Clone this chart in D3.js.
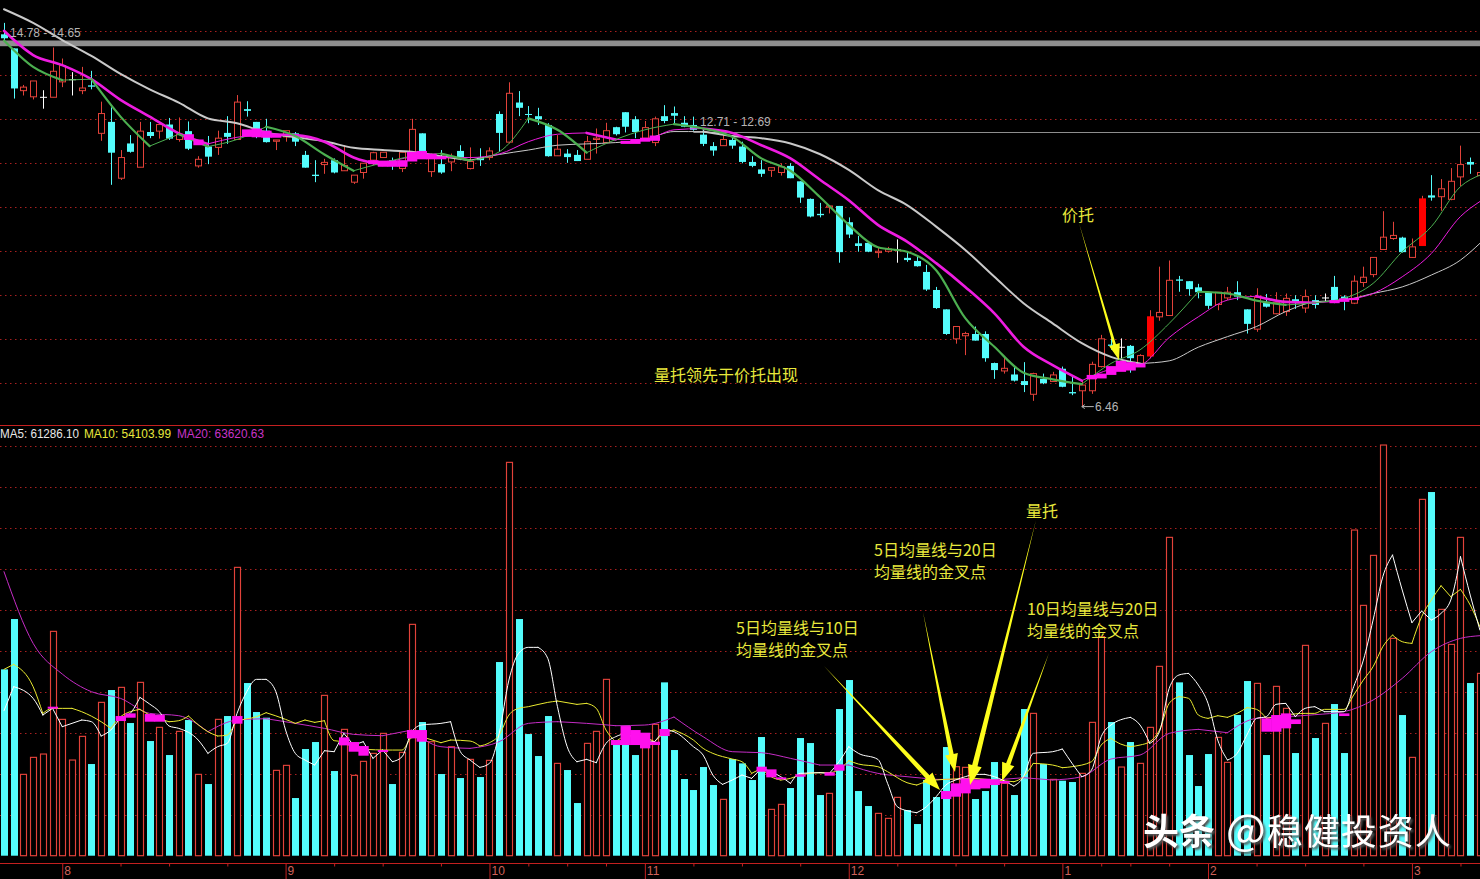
<!DOCTYPE html>
<html>
<head>
<meta charset="utf-8">
<style>
html, body { margin: 0; padding: 0; background: #000; overflow: hidden; }
svg { display: block; }
</style>
<script src="https://cdn.jsdelivr.net/npm/d3@7"></script>
</head>
<body>
<svg id="chart"></svg>
<script>
// daily candles, one entry per trading day
const open = [14.92,14.60,13.64,13.50,13.50,13.49,13.84,13.90,13.64,13.76,
    12.67,12.93,11.65,12.44,11.90,12.70,12.72,12.87,12.53,12.72,
    11.93,12.37,12.35,12.68,12.53,13.22,12.93,12.73,12.49,12.59,
    12.67,12.18,11.73,11.96,12.06,11.82,11.56,11.78,12.06,12.12,
    12.06,11.87,12.06,12.67,11.80,11.97,12.02,12.27,11.87,12.12,
    12.12,13.11,12.47,13.37,13.11,13.06,12.86,12.16,12.21,12.18,
    12.08,12.53,12.46,12.81,13.15,12.99,12.56,12.46,13.06,13.13,
    12.91,12.86,12.64,12.38,12.39,12.52,12.37,12.02,11.85,11.83,
    11.78,11.93,11.58,11.18,10.84,10.99,11.02,10.65,10.17,10.18,
    9.96,9.99,10.03,9.84,9.77,9.52,9.11,8.67,8.00,8.07,
    8.11,8.11,7.45,7.27,7.19,7.04,6.74,7.09,7.03,7.32,
    6.79,6.82,6.82,7.37,7.87,7.82,7.84,7.44,7.61,8.50,
    8.53,9.35,9.31,9.17,9.06,8.78,8.93,9.06,8.67,8.22,
    8.84,8.57,8.62,8.90,8.70,8.88,8.94,9.18,8.96,8.81,
    9.28,9.46,10.03,10.28,10.30,9.85,10.12,11.26,11.23,11.17,
    11.68,12.02,11.71];
const close = [14.83,13.69,13.72,13.86,13.50,14.08,14.21,13.90,13.70,13.73,
    13.12,12.23,12.12,12.25,12.72,12.61,12.87,12.55,12.65,12.32,
    12.08,12.14,12.56,12.59,13.38,13.18,12.59,12.47,12.52,12.73,
    12.48,11.89,11.70,12.01,11.78,11.94,11.72,11.99,12.23,12.24,
    11.95,12.24,12.76,12.25,12.10,11.78,12.12,12.12,12.03,12.06,
    12.27,12.68,13.58,13.25,13.09,12.99,12.15,12.31,12.13,12.04,
    12.48,12.56,12.73,12.65,12.82,12.70,12.80,13.00,12.95,13.07,
    12.82,12.75,12.43,12.28,12.53,12.39,12.02,11.93,11.75,11.89,
    11.91,11.65,11.21,10.78,10.81,11.02,9.97,10.37,10.11,9.98,
    9.99,10.04,10.03,9.79,9.65,9.12,8.70,8.11,8.28,8.12,
    7.96,7.56,7.29,7.33,7.05,6.95,7.21,6.99,7.18,6.91,
    6.76,6.95,7.42,8.00,7.84,7.82,7.56,7.62,8.50,8.60,
    9.33,9.32,9.13,9.06,8.75,9.06,9.06,8.96,8.34,8.94,
    8.73,8.83,8.92,8.83,8.96,8.77,8.94,8.86,8.87,9.31,
    9.40,9.85,10.31,10.35,9.97,10.09,11.18,11.21,11.41,11.58,
    11.96,11.96,11.78];
const high = [15.18,14.60,13.77,13.86,13.65,14.62,14.37,14.06,14.18,14.09,
    13.39,13.26,12.29,12.63,12.93,12.93,12.87,13.02,13.03,12.94,
    12.15,12.61,12.73,13.06,13.54,13.40,12.93,13.00,12.52,12.73,
    12.70,12.27,12.06,12.09,12.10,12.40,11.72,11.99,12.25,12.24,
    12.12,12.24,13.00,12.67,12.21,12.29,12.21,12.40,12.35,12.33,
    12.35,13.17,13.83,13.63,13.29,13.25,12.90,12.63,12.31,12.29,
    12.61,12.78,12.91,12.82,13.15,13.06,12.95,13.05,13.31,13.28,
    13.06,13.05,12.78,12.47,12.67,12.61,12.48,12.15,12.06,11.89,
    11.99,11.99,11.58,11.19,11.09,11.02,11.02,10.76,10.34,10.18,
    10.08,10.09,10.26,9.98,9.88,9.68,9.18,8.67,8.28,8.16,
    8.28,8.17,7.46,7.58,7.37,7.47,7.23,7.21,7.25,7.37,
    7.14,7.06,7.48,8.09,8.01,8.01,7.86,7.65,8.65,9.64,
    9.78,9.43,9.31,9.25,9.07,9.06,9.18,9.31,8.67,9.15,
    9.02,9.06,9.03,8.99,9.12,8.99,9.03,9.43,8.99,9.44,
    9.64,9.85,10.90,10.66,10.32,10.28,11.25,11.72,11.63,11.88,
    12.39,12.12,11.82];
const low = [14.75,13.46,13.53,13.44,13.23,13.49,13.72,13.53,13.56,13.67,
    12.50,11.50,11.61,12.23,11.90,12.56,12.55,12.52,12.48,12.29,
    11.89,11.97,12.18,12.43,12.52,13.05,12.56,12.46,12.29,12.48,
    12.38,11.89,11.56,11.75,11.76,11.82,11.52,11.64,11.95,12.12,
    11.84,11.79,12.06,12.25,11.68,11.75,11.81,12.06,11.85,11.93,
    12.06,12.25,12.44,13.06,12.90,12.86,12.14,12.16,12.00,12.04,
    12.08,12.21,12.44,12.62,12.69,12.56,12.53,12.38,12.90,12.90,
    12.81,12.73,12.38,12.16,12.39,12.32,11.99,11.90,11.68,11.68,
    11.71,11.65,11.09,10.76,10.76,10.85,9.73,10.29,9.98,9.97,
    9.84,9.96,9.73,9.75,9.64,9.09,8.68,8.09,7.89,7.63,
    7.96,7.48,7.09,7.21,7.03,6.79,6.59,6.97,7.02,6.90,
    6.72,6.46,6.75,7.35,7.75,7.52,7.23,7.44,7.56,8.41,
    8.52,9.07,8.98,8.92,8.68,8.65,8.88,8.88,8.12,8.16,
    8.71,8.56,8.52,8.68,8.59,8.69,8.84,8.81,8.65,8.79,
    9.18,9.40,10.02,10.25,9.96,9.84,10.12,11.14,10.91,11.15,
    11.47,11.75,11.61];
const limitUpDays = [118, 146];

// volume in hundreds of lots
const volume = [559,710,244,295,305,673,409,287,358,275,
    460,497,505,398,520,344,385,302,373,407,
    244,215,409,419,865,518,431,414,256,271,
    173,320,341,481,254,379,241,283,307,367,
    215,310,694,401,342,245,327,233,289,236,
    286,581,1180,710,365,299,419,277,257,158,
    337,373,529,345,340,302,347,394,520,317,
    230,197,266,212,169,290,277,227,356,139,
    154,203,353,338,182,187,440,527,194,149,
    127,112,175,137,95,227,176,326,267,265,
    170,194,281,217,182,440,427,275,229,225,
    221,247,400,657,401,266,341,277,385,568,
    955,520,302,209,305,355,280,422,524,517,
    302,508,442,308,631,353,397,455,308,977,
    751,901,1232,652,422,295,1069,1091,739,634,
    955,518,547];

const maDays = d3.range(0, 151, 3).concat(152);
const priceMa5 = [14.78,14.18,13.88,13.90,13.05,12.38,12.65,12.37,12.53,12.82,12.61,12.19,11.82,
    12.00,12.15,12.21,12.05,12.25,13.01,12.75,12.23,12.53,12.75,12.88,12.78,12.59,
    12.10,11.82,11.23,10.59,10.08,9.98,9.56,8.47,7.82,7.23,7.08,6.97,
    7.44,7.75,8.35,9.07,9.03,8.87,8.77,8.82,8.92,9.26,9.98,10.55,11.46,11.72];
const priceMa10 = [15.00,14.45,14.22,13.90,13.43,13.05,12.67,12.43,12.58,12.65,12.63,12.48,12.12,
    11.95,12.12,12.12,12.12,12.20,12.48,12.65,12.68,12.53,12.53,12.75,12.78,12.68,
    12.40,12.10,11.62,11.15,10.59,10.21,9.72,9.18,8.58,7.82,7.40,7.05,
    7.31,7.40,8.03,8.50,8.88,8.97,8.84,8.82,8.88,9.03,9.41,9.94,10.78,11.12];
const priceMa20 = [15.49,15.18,14.79,14.43,14.02,13.67,13.37,13.01,12.90,12.69,12.58,12.49,12.34,
    12.29,12.25,12.15,12.06,12.19,12.29,12.40,12.43,12.46,12.53,12.71,12.71,12.61,
    12.56,12.44,12.20,11.84,11.38,11.04,10.55,10.02,9.41,8.81,8.35,7.90,
    7.59,7.44,7.50,7.81,8.05,8.28,8.62,8.84,8.88,9.03,9.18,9.45,9.79,10.17];
const volMa20 = [852,637,545,492,472,427,420,372,407,411,397,382,364,
    360,377,327,322,342,397,402,397,390,392,416,357,312,
    309,292,272,272,247,237,229,229,227,234,227,237,
    290,302,367,379,369,412,417,423,432,467,532,612,652,660];

// the shorter volume averages turn sharply, so they get more readings
const volMa5Days = [0,1,3,4,5,6,8,9,10,11,12,13,14,15,16,17,18,20,21,22,23,24,25,26,27,28,29,30,31,32,33,34,35,36,37,
    38,39,40,41,42,43,45,46,47,48,49,50,51,52,53,54,55,56,57,58,59,60,61,62,63,64,66,67,68,69,71,72,73,74,75,
    76,77,78,79,80,81,82,84,85,86,87,88,90,91,92,93,94,95,96,97,98,99,100,101,102,104,105,106,108,109,110,111,112,113,
    114,116,117,118,119,120,121,122,123,124,125,126,127,128,129,130,131,132,133,134,135,136,138,139,140,141,142,143,144,145,146,147,148,149,150,151,152];
const volMa5 = [435,507,472,422,442,387,407,402,359,377,412,427,475,455,432,389,382,347,307,327,337,427,492,529,529,492,377,307,287,272,315,312,367,332,342,
    292,317,282,297,372,392,397,402,312,287,265,277,367,527,607,625,625,592,447,327,282,289,279,337,357,367,347,342,377,372,327,302,242,214,227,
    242,232,262,252,237,217,247,249,247,282,327,307,289,217,147,135,129,147,177,212,227,237,244,244,237,209,237,307,312,320,277,237,257,357,
    392,415,392,337,372,502,542,547,512,457,347,287,307,362,412,417,454,457,417,442,447,432,432,507,587,707,837,902,797,699,734,707,727,767,897,782,677];
const volMa10Days = [0,1,3,4,5,7,8,10,11,12,14,15,17,18,19,21,22,23,24,26,27,29,30,31,32,33,34,35,36,
    39,41,42,43,45,46,48,49,50,51,52,53,54,56,57,59,60,61,62,63,64,66,67,68,69,71,72,73,75,
    76,77,78,79,80,81,82,84,85,86,87,88,90,91,93,94,95,96,97,100,102,104,105,106,108,109,110,112,113,
    114,115,116,117,118,119,120,121,122,123,124,125,126,127,128,129,130,132,134,135,136,138,139,140,141,142,143,144,145,146,147,148,149,150,151,152];
const volMa10 = [559,574,507,427,442,442,432,402,382,417,439,422,402,405,419,372,359,362,402,417,429,409,397,407,400,405,345,342,322,
    317,317,354,357,339,347,344,329,339,362,422,442,447,460,464,454,457,442,377,342,357,357,342,367,377,347,322,307,290,
    282,247,262,237,227,232,242,249,249,259,285,275,267,252,219,212,222,227,229,232,227,222,237,277,272,264,267,282,332,
    352,335,327,332,342,377,457,477,472,422,412,420,415,427,444,439,412,422,427,427,439,439,482,527,567,627,662,642,637,717,767,810,777,799,752,687];

// magenta support patches: day, upper value, lower value
const priceBandDays = [19,20,25,26,27,28,38,39,40,41,42,43,44,45,64,65,66,67,112,113,114,115,116,117,137,138,139];
const priceBandHigh = [12.65,12.53,12.76,12.78,12.73,12.65,12.06,12.05,12.05,12.06,12.25,12.27,12.21,12.15,12.50,12.53,12.57,12.62,7.18,7.21,7.38,7.50,7.47,7.44,8.88,8.92,8.93];
const priceBandLow = [12.52,12.40,12.59,12.58,12.57,12.57,11.97,11.91,11.91,11.91,12.03,12.08,12.08,12.08,12.43,12.43,12.48,12.50,7.08,7.10,7.18,7.25,7.28,7.35,8.81,8.84,8.88];
const volBandDays = [5,12,13,15,16,24,35,36,37,39,42,43,63,64,65,66,67,68,78,79,80,82,85,86,97,98,99,100,101,102,103,130,131,132,133,138];
const volBandHigh = [447,419,427,425,422,419,355,341,329,317,377,377,347,389,377,369,342,380,267,259,235,244,250,273,194,217,232,227,231,229,224,412,422,427,409,427];
const volBandLow = [441,404,414,402,402,396,331,312,300,311,352,342,332,332,332,322,332,359,252,235,229,237,240,255,170,177,187,199,202,212,217,372,372,382,395,419];

// axis and grid values
const priceGrid = [15, 14, 13, 12, 11, 10, 9, 8, 7];
const volGrid = [1228, 1105, 982, 859, 737, 614, 491, 368, 246, 123];
const monthDays = [6, 29, 50, 66, 87, 109, 124, 145];
const monthLabels = ["8", "9", "10", "11", "12", "1", "2", "3"];
const minorDays = [12, 17, 23, 34, 39, 45, 54, 58, 62, 71, 76, 82, 92, 98, 103, 113, 116, 120, 129, 134, 140, 150];
const resistBand = [14.78, 14.65];
const resistLine = [12.71, 12.69];
const lowestPrice = 6.46;

const totalWidth = 1480;
const totalHeight = 879;
const cyan = "#54fcfc";
const red = "#e2423a";
const pink = "#ff10ee";
const gold = "#e8e83c";
const gridRed = "#a82020";
const frameRed = "#c42020";
const cjk = "'Noto Sans CJK SC', 'Noto Sans', sans-serif";
const latin = "'Liberation Sans', Arial, sans-serif";

const svg = d3.select("#chart")
    .attr("width", totalWidth)
    .attr("height", totalHeight)
    .style("background", "#000");

const x = d3.scaleLinear().domain([0, 152]).range([4, 1479.9]);
const step = x(1) - x(0);
const yPrice = d3.scaleLinear().domain([15.70, 6.61]).range([0, 400]);
const yVol = d3.scaleLinear().domain([0, 1227]).range([855.7, 446.7]);
const days = d3.range(open.length);

function grid(values, scale) {
    svg.append("g").selectAll("line")
        .data(values)
        .enter()
        .append("line")
        .attr("x1", 0)
        .attr("x2", totalWidth)
        .attr("y1", d => Math.round(scale(d)) + 0.5)
        .attr("y2", d => Math.round(scale(d)) + 0.5)
        .attr("stroke", gridRed)
        .attr("stroke-dasharray", "1.5 3.5");
}

// rising stretches are hairlines, falling stretches are drawn heavy
function maLine(values, dayList, color, thick, thin, scale) {
    const line = d3.line()
        .x(d => x(d.day))
        .y(d => scale(d.value))
        .curve(d3.curveMonotoneX);
    const points = values.map((v, k) => ({ day: dayList[k], value: v }));
    let run = [points[0]];
    let falling = points[1].value < points[0].value;
    const flush = () => {
        svg.append("path")
            .attr("d", line(run))
            .attr("fill", "none")
            .attr("stroke", color)
            .attr("stroke-linejoin", "round")
            .attr("stroke-linecap", "round")
            .attr("stroke-width", falling ? thick : thin);
    };
    for (let k = 1; k < points.length; k++) {
        const nowFalling = points[k].value < points[k - 1].value;
        if (nowFalling !== falling) {
            flush();
            run = [points[k - 1]];
            falling = nowFalling;
        }
        run.push(points[k]);
    }
    flush();
}

function bands(bandDays, top, bottom, scale) {
    svg.append("g").selectAll("rect")
        .data(bandDays)
        .enter()
        .append("rect")
        .attr("x", d => x(d) - step / 2)
        .attr("width", step + 0.6)
        .attr("y", (d, k) => scale(top[k]))
        .attr("height", (d, k) => scale(bottom[k]) - scale(top[k]))
        .attr("fill", pink);
}

// tapered annotation arrow: hairline at the start, wedge and head at the tip
function arrow(x1, y1, x2, y2, shaft, headLen, headWidth) {
    const len = Math.hypot(x2 - x1, y2 - y1);
    const ux = (x2 - x1) / len, uy = (y2 - y1) / len;
    const nx = -uy, ny = ux;
    const bx = x2 - ux * headLen, by = y2 - uy * headLen;
    const pts = [
        [x1, y1],
        [bx + nx * shaft / 2, by + ny * shaft / 2],
        [bx + nx * headWidth / 2, by + ny * headWidth / 2],
        [x2, y2],
        [bx - nx * headWidth / 2, by - ny * headWidth / 2],
        [bx - nx * shaft / 2, by - ny * shaft / 2]
    ];
    svg.append("polygon")
        .attr("points", pts.map(p => p.join(",")).join(" "))
        .attr("fill", "#fcfc1c");
}

function note(label, px, py) {
    svg.append("text")
        .attr("x", px)
        .attr("y", py)
        .attr("fill", gold)
        .attr("font-family", cjk)
        .attr("font-size", "16px")
        .text(label);
}

function priceTag(label, px, py) {
    svg.append("text")
        .attr("x", px)
        .attr("y", py)
        .attr("fill", "#b4b4b4")
        .attr("font-family", latin)
        .attr("font-size", "12px")
        .text(label);
}

// ---- price pane
grid(priceGrid, yPrice);

svg.append("rect")
    .attr("x", 0)
    .attr("width", totalWidth)
    .attr("y", yPrice(resistBand[0]))
    .attr("height", yPrice(resistBand[1]) - yPrice(resistBand[0]))
    .attr("fill", "#8e8e8e");
svg.append("line")
    .attr("x1", x(71))
    .attr("x2", totalWidth)
    .attr("y1", Math.round(yPrice(d3.mean(resistLine))) + 0.5)
    .attr("y2", Math.round(yPrice(d3.mean(resistLine))) + 0.5)
    .attr("stroke", "#8e8e8e");

const candle = svg.append("g").selectAll("g")
    .data(days)
    .enter()
    .append("g");

const candleColor = i => {
    if (close[i] === open[i]) return "#fff";
    return close[i] > open[i] ? red : cyan;
};

candle.append("line")
    .attr("x1", i => Math.round(x(i)) + 0.5)
    .attr("x2", i => Math.round(x(i)) + 0.5)
    .attr("y1", i => yPrice(high[i]))
    .attr("y2", i => yPrice(low[i]))
    .attr("stroke", candleColor);

candle.append("rect")
    .attr("x", i => Math.round(x(i)) - (close[i] > open[i] ? 2.5 : 3))
    .attr("width", i => (close[i] > open[i] ? 6 : 7))
    .attr("y", i => yPrice(Math.max(open[i], close[i])))
    .attr("height", i => Math.max(1, Math.abs(yPrice(open[i]) - yPrice(close[i]))))
    .attr("fill", i => {
        if (limitUpDays.includes(i)) return "#ff0000";
        return close[i] > open[i] ? "#000" : candleColor(i);
    })
    .attr("stroke", i => (close[i] > open[i] ? (limitUpDays.includes(i) ? "#ff0000" : red) : "none"));

maLine(priceMa20, maDays, "#c9c9c9", 2, 1, yPrice);
maLine(priceMa10, maDays, "#ee1ce0", 2.6, 1, yPrice);
maLine(priceMa5, maDays, "#4caf50", 2.2, 1, yPrice);
bands(priceBandDays, priceBandHigh, priceBandLow, yPrice);

priceTag(resistBand[0] + " - " + resistBand[1], 10, 37);
priceTag(resistLine[0] + " - " + resistLine[1], 700, 126);

// low marker
svg.append("path")
    .attr("d", `M${x(111)},${yPrice(lowestPrice)}h12M${x(111)},${yPrice(lowestPrice)}l3,-2M${x(111)},${yPrice(lowestPrice)}l3,2`)
    .attr("fill", "none")
    .attr("stroke", "#b4b4b4");
priceTag(lowestPrice, 1095, 411);

note("价托", 1062, 221);
note("量托领先于价托出现", 654, 381);
arrow(1079, 223, 1119, 360, 3, 16, 11);

// ---- volume pane
svg.append("line")
    .attr("x1", 0)
    .attr("x2", totalWidth)
    .attr("y1", 425.5)
    .attr("y2", 425.5)
    .attr("stroke", frameRed);

grid(volGrid, yVol);

svg.append("g").selectAll("rect")
    .data(days)
    .enter()
    .append("rect")
    .attr("x", i => Math.round(x(i)) - (close[i] >= open[i] ? 2.5 : 3))
    .attr("width", i => (close[i] >= open[i] ? 6 : 7))
    .attr("y", i => yVol(volume[i]))
    .attr("height", i => yVol(0) - yVol(volume[i]))
    .attr("fill", i => (close[i] >= open[i] ? "#000" : cyan))
    .attr("stroke", i => (close[i] >= open[i] ? red : "none"))
    .attr("stroke-width", 1.15);

maLine(volMa20, maDays, "#c52cc5", 1, 1, yVol);
maLine(volMa10, volMa10Days, "#eaea30", 1, 1, yVol);
maLine(volMa5, volMa5Days, "#ffffff", 1, 1, yVol);
bands(volBandDays, volBandHigh, volBandLow, yVol);

const legend = [
    { label: "MA5: 61286.10", px: 0, width: 79, color: "#e8e8e8" },
    { label: "MA10: 54103.99", px: 84, width: 87, color: gold },
    { label: "MA20: 63620.63", px: 177, width: 87, color: "#c834c8" }
];
svg.append("g").selectAll("text")
    .data(legend)
    .enter()
    .append("text")
    .attr("x", d => d.px)
    .attr("y", 438)
    .attr("textLength", d => d.width)
    .attr("lengthAdjust", "spacingAndGlyphs")
    .attr("fill", d => d.color)
    .attr("font-family", latin)
    .attr("font-size", "12px")
    .text(d => d.label);

note("量托", 1026, 517);
note("5日均量线与20日", 874, 556);
note("均量线的金叉点", 874, 578);
note("5日均量线与10日", 736, 634);
note("均量线的金叉点", 736, 656);
note("10日均量线与20日", 1027, 615);
note("均量线的金叉点", 1027, 637);

arrow(824, 666, 940, 790, 5, 18, 13);
arrow(923, 612, 955, 772, 4.5, 18, 13);
arrow(1036, 520, 970, 785, 5.5, 20, 14);
arrow(1049, 653, 1002, 781, 4.5, 18, 13);

// ---- time axis
const axisY = 863.5;
const monthAxis = svg.append("g")
    .attr("transform", `translate(0,${axisY})`)
    .call(d3.axisBottom(x).tickValues(monthDays).tickSize(16).tickFormat((d, k) => monthLabels[k]));
const minorAxis = svg.append("g")
    .attr("transform", `translate(0,${axisY})`)
    .call(d3.axisBottom(x).tickValues(minorDays).tickSize(3).tickFormat(""));
[monthAxis, minorAxis].forEach(a => {
    a.select(".domain").remove();
    a.selectAll("line").attr("stroke", frameRed);
});
monthAxis.selectAll("text")
    .attr("x", 1.5)
    .attr("y", 3)
    .attr("dy", "0.71em")
    .attr("text-anchor", "start")
    .attr("fill", "#d0625a")
    .attr("font-family", latin)
    .attr("font-size", "12px");
svg.append("line")
    .attr("x1", 0)
    .attr("x2", totalWidth)
    .attr("y1", axisY)
    .attr("y2", axisY)
    .attr("stroke", frameRed);

// ---- watermark
const mark = svg.append("text")
    .attr("x", 1143)
    .attr("y", 845)
    .attr("fill", "#fff")
    .attr("font-family", cjk)
    .attr("font-size", "36px")
    .style("filter", "drop-shadow(2px 2px 1px #555)");
mark.append("tspan").attr("font-weight", 700).text("头条");
mark.append("tspan").attr("dx", 11).attr("font-size", "42px").text("@");
mark.append("tspan").attr("dx", 1).attr("letter-spacing", 1).text("稳健投资人");
</script>
</body>
</html>
